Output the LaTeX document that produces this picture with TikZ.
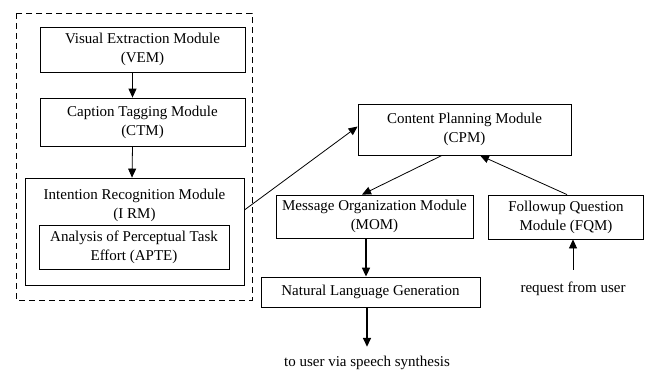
\documentclass[tikz,border=0pt]{standalone}
\usepackage{fontspec}
\setmainfont{Liberation Serif}
\usetikzlibrary{arrows.meta}

\begin{document}
\begin{tikzpicture}[x=1pt,y=-1pt,line width=0.8pt,
		modbox/.style={draw,align=center,inner sep=0pt,font=\fontsize{15}{19}\selectfont},
		plain/.style={align=center,font=\fontsize{15}{19}\selectfont},
		arr/.style={-{Triangle[length=9pt,width=8pt]}}]
			\useasboundingbox (0,0) rectangle (645,372);
			\draw[dash pattern=on 6pt off 4pt] (16,13) rectangle (252,300);
			
			\node[modbox,minimum width=205,minimum height=45] (vem) at (142.5,49.5) {Visual Extraction Module\\(VEM)};
			\node[modbox,minimum width=205,minimum height=48] (ctm) at (142.5,122) {Caption Tagging Module\\(CTM)};
			\node[modbox,minimum width=219,minimum height=107,label={[plain,anchor=north,yshift=-8]north:Intention Recognition Module\\(I RM)}] (irm) at (134.5,231.5) {};
			\node[modbox,minimum width=190,minimum height=44] (apte) at (134,247) {Analysis of Perceptual Task\\Effort (APTE)};
			
			\node[modbox,minimum width=213,minimum height=51] (cpm) at (464.5,129.5) {Content Planning Module\\(CPM)};
			\node[modbox,minimum width=197,minimum height=43] (mom) at (374.5,216.5) {Message Organization Module\\(MOM)};
			\node[modbox,minimum width=155,minimum height=44] (fqm) at (566,217) {Followup Question\\Module (FQM)};
			\node[modbox,minimum width=219,minimum height=30] (nlg) at (370.5,292) {Natural Language Generation};
			\node[plain,inner ysep=12pt] (req) at (573,289) {request from user};
			\node[plain,inner ysep=9pt] (speech) at (367,363) {to user via speech synthesis};
			
			\draw[arr] ([xshift=-10]vem.south) -- ([xshift=-10]ctm.north);
			\draw[arr] ([xshift=-10]ctm.south) -- ([xshift=-2.5]irm.north);
			\draw[arr] ([yshift=21.5]irm.east) -- ([yshift=3]cpm.west);
			\draw[arr] ([xshift=-22.5]cpm.south) -- ([xshift=-12.5]mom.north);
			\draw[arr] ([xshift=1]fqm.north) -- ([xshift=15.5]cpm.south);
			\draw[arr,line width=1.6pt] ([xshift=-8.5]mom.south) -- ([xshift=-4.5]nlg.north);
			\draw[arr,line width=1.6pt] (nlg.south -| speech.north) -- (speech.north);
			\draw[arr] (req.north) -- (fqm.south -| req.north);
		\end{tikzpicture}
\end{document}
